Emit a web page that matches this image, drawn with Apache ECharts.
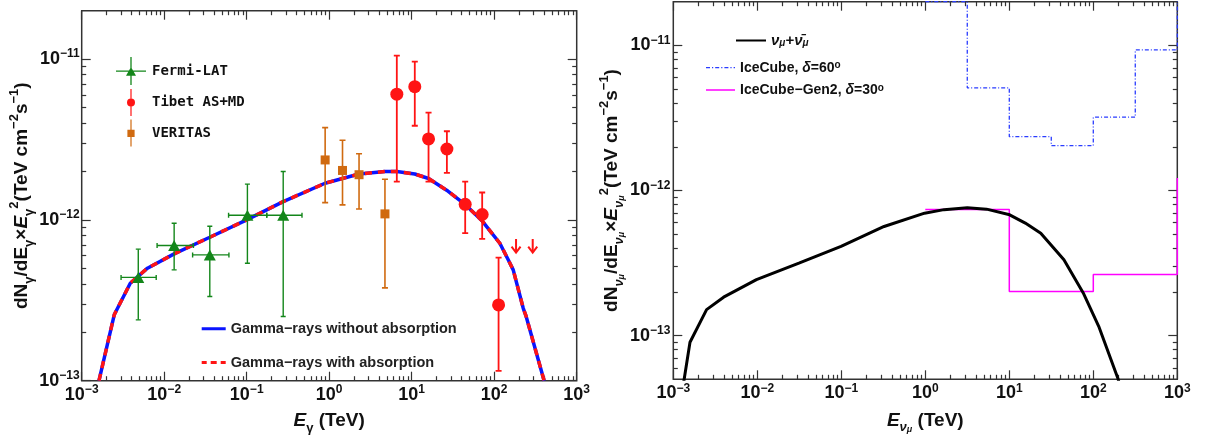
<!DOCTYPE html>
<html><head><meta charset="utf-8">
<script src="https://cdn.jsdelivr.net/npm/echarts@6/dist/echarts.min.js"></script>
<style>html,body{margin:0;padding:0;background:#fff}#c{width:1206px;height:441px}</style>
</head><body><div id="c"></div>
<script>
// ================= DATA (energy in TeV, flux in TeV cm^-2 s^-1) =================
// Left panel: gamma rays
const fermiE    = [4.85e-3, 1.32e-2, 3.57e-2, 0.102, 0.277];
const fermiF    = [4.39e-13, 6.93e-13, 6.06e-13, 1.07e-12, 1.07e-12];
const fermiFLo  = [2.39e-13, 4.89e-13, 3.34e-13, 5.38e-13, 2.51e-13];
const fermiFHi  = [6.58e-13, 9.53e-13, 9.14e-13, 1.67e-12, 2.0e-12];
const fermiELo  = [3.0e-3, 8.2e-3, 2.21e-2, 6.03e-2, 0.175];
const fermiEHi  = [8.0e-3, 2.26e-2, 6.09e-2, 0.175, 0.468];

const tibetE    = [6.6, 10.9, 16.0, 26.7, 44.5, 71.5, 113];
const tibetF    = [6.05e-12, 6.74e-12, 3.19e-12, 2.76e-12, 1.25e-12, 1.08e-12, 2.96e-13];
const tibetFLo  = [1.73e-12, 3.85e-12, 1.73e-12, 1.96e-12, 8.27e-13, 7.62e-13, 1.15e-13];
const tibetFHi  = [1.05e-11, 9.64e-12, 4.65e-12, 3.56e-12, 1.73e-12, 1.48e-12, 5.82e-13];
const tibetULE  = [184, 293];
const tibetULF  = [7.6e-13, 7.6e-13];

const veritasE   = [0.893, 1.45, 2.30, 4.74];
const veritasF   = [2.36e-12, 2.03e-12, 1.91e-12, 1.09e-12];
const veritasFLo = [1.28e-12, 1.24e-12, 1.17e-12, 3.78e-13];
const veritasFHi = [3.75e-12, 3.13e-12, 2.58e-12, 1.79e-12];

const gammaE       = [1.62e-3, 2.48e-3, 3.88e-3, 6.27e-3, 1.32e-2, 3.57e-2, 0.1, 0.277, 0.89, 2.3, 4.74, 6.6, 10.9, 16.0, 26.5, 44.2, 72.2, 81, 117, 151, 170, 225, 244, 403];
const gammaNoAbsF  = [1.0e-13, 2.57e-13, 4.04e-13, 5.01e-13, 6.15e-13, 7.8e-13, 1.0e-12, 1.3e-12, 1.69e-12, 1.93e-12, 2.0e-12, 2.0e-12, 1.93e-12, 1.81e-12, 1.53e-12, 1.25e-12, 9.8e-13, 9.08e-13, 7.16e-13, 5.53e-13, 4.89e-13, 2.82e-13, 2.51e-13, 1.0e-13];
const gammaAbsF    = [1.0e-13, 2.57e-13, 4.04e-13, 5.01e-13, 6.15e-13, 7.8e-13, 1.0e-12, 1.3e-12, 1.69e-12, 1.93e-12, 2.0e-12, 2.0e-12, 1.93e-12, 1.81e-12, 1.53e-12, 1.25e-12, 9.8e-13, 9.08e-13, 7.16e-13, 5.53e-13, 4.89e-13, 2.82e-13, 2.51e-13, 1.0e-13];

// Right panel: neutrinos
const nuE = [1.3e-3, 1.35e-3, 1.58e-3, 2.49e-3, 3.97e-3, 9.77e-3, 3.13e-2, 0.0993, 0.323, 0.98, 1.67, 3.16, 5.36, 10.1, 15.5, 23.7, 44.7, 75.9, 116, 197, 210];
const nuF = [4.4e-14, 5.04e-14, 9.0e-14, 1.51e-13, 1.84e-13, 2.43e-13, 3.16e-13, 4.12e-13, 5.65e-13, 6.98e-13, 7.38e-13, 7.6e-13, 7.44e-13, 6.8e-13, 5.96e-13, 5.08e-13, 3.33e-13, 1.97e-13, 1.16e-13, 5.04e-14, 4.4e-14];

const icecubeEdges = [1, 3.16, 10, 31.6, 100, 316, 1000];
const icecubeFlux  = [2.0e-11, 5.1e-12, 2.35e-12, 2.04e-12, 3.2e-12, 9.3e-12];
const icecubeNext  = 3.0e-11;   // next bin (beyond plotted range)
const gen2Edges = [1, 10, 100, 1000];
const gen2Flux  = [7.4e-13, 2.01e-13, 2.64e-13];
const gen2Next  = 1.22e-12;

// axis ranges (decades)
const xRange = [1e-3, 1e3];
const yRangeL = [1e-13, 2e-11];
const yRangeR = [5e-14, 2e-11];

// ================= BUILD =================
const L = Math.log10;
const FONT = 'Liberation Sans';
const pts = (xs, ys) => xs.map((x, i) => [L(x), L(ys[i])]);
function steps(edges, vals, next) {
  const out = [];
  vals.forEach((v, i) => { out.push([L(edges[i]), L(v)]); out.push([L(edges[i + 1]), L(v)]); });
  if (next != null) out.push([L(edges[edges.length - 1]), L(next)]);
  return out;
}
function majors(lo, hi) { const o = []; for (let n = Math.ceil(lo - 1e-9); n <= hi + 1e-9; n++) o.push(n); return o; }
function minors(lo, hi) {
  const o = [];
  for (let n = Math.floor(lo) - 1; n <= Math.ceil(hi); n++)
    for (let k = 2; k <= 9; k++) { const v = n + L(k); if (v > lo + 1e-6 && v < hi - 1e-6) o.push(v); }
  return o;
}
const lab = v => { const n = Math.round(v); return '{b|10}{s|' + (n < 0 ? '\u2212' : '') + Math.abs(n) + '}'; };
const labRich = {
  b: { fontFamily: FONT, fontSize: 18, fontWeight: 'bold', color: '#111', lineHeight: 22 },
  s: { fontFamily: FONT, fontSize: 12, fontWeight: 'bold', color: '#111', lineHeight: 11, verticalAlign: 'top' }
};
const nameRich = {
  t: { fontFamily: FONT, fontSize: 19, fontWeight: 'bold', color: '#111', lineHeight: 28 },
  i: { fontFamily: FONT, fontSize: 19, fontWeight: 'bold', fontStyle: 'italic', color: '#111', lineHeight: 28 },
  s: { fontFamily: FONT, fontSize: 13, fontWeight: 'bold', color: '#111', lineHeight: 12, verticalAlign: 'bottom' },
  si: { fontFamily: FONT, fontSize: 13, fontWeight: 'bold', fontStyle: 'italic', color: '#111', lineHeight: 12, verticalAlign: 'bottom' },
  ss: { fontFamily: FONT, fontSize: 9, fontWeight: 'bold', fontStyle: 'italic', color: '#111', lineHeight: 6, verticalAlign: 'bottom' },
  p: { fontFamily: FONT, fontSize: 13, fontWeight: 'bold', color: '#111', lineHeight: 14, verticalAlign: 'top' }
};
const TICK = { color: '#333', width: 1.2 };

function makeAxes(dim, gi, lo, hi, opts) {
  const pos = dim === 'x' ? ['bottom', 'top'] : ['left', 'right'];
  const base = { type: 'value', gridIndex: gi, min: lo, max: hi, axisLine: { show: false, onZero: false }, splitLine: { show: false } };
  const maj = majors(lo, hi), mnr = minors(lo, hi);
  return [
    Object.assign({}, base, {
      position: pos[0],
      axisTick: { show: true, inside: true, length: 9, customValues: maj, lineStyle: TICK },
      axisLabel: { show: true, customValues: maj, formatter: lab, rich: labRich, margin: opts.margin, hideOverlap: false },
      name: opts.name, nameLocation: 'middle', nameGap: opts.nameGap, nameRotate: dim === 'y' ? 90 : 0,
      nameTextStyle: { rich: nameRich }
    }),
    Object.assign({}, base, { position: pos[0], axisTick: { show: true, inside: true, length: 4.5, customValues: mnr, lineStyle: TICK }, axisLabel: { show: false } }),
    Object.assign({}, base, { position: pos[1], axisTick: { show: true, inside: true, length: 9, customValues: maj, lineStyle: TICK }, axisLabel: { show: false } }),
    Object.assign({}, base, { position: pos[1], axisTick: { show: true, inside: true, length: 4.5, customValues: mnr, lineStyle: TICK }, axisLabel: { show: false } })
  ];
}

const xL = [L(xRange[0]), L(xRange[1])];
const xAxes = makeAxes('x', 0, xL[0], xL[1], { margin: 3, nameGap: 26, name: '{i|E}{s|\u03b3}{t| (TeV)}' })
  .concat(makeAxes('x', 1, xL[0], xL[1], { margin: 3, nameGap: 27, name: '{i|E}{si|\u03bd}{ss|\u03bc}{t| (TeV)}' }));
const yAxes = makeAxes('y', 0, L(yRangeL[0]), L(yRangeL[1]), { margin: 2, nameGap: 39,
    name: '{t|dN}{s|\u03b3}{t|/dE}{s|\u03b3}{t|\u00d7}{i|E}{s|\u03b3}{p|2}{t|(TeV cm}{p|\u22122}{t|s}{p|\u22121}{t|)}' })
  .concat(makeAxes('y', 1, L(yRangeR[0]), L(yRangeR[1]), { margin: 3, nameGap: 40,
    name: '{t|dN}{si|\u03bd}{ss|\u03bc}{t|/dE}{si|\u03bd}{ss|\u03bc}{t|\u00d7}{i|E}{si|\u03bd}{ss|\u03bc}{p|2}{t|(TeV cm}{p|\u22122}{t|s}{p|\u22121}{t|)}' }));

function errSeries(name, color, lw, cap, data, hasX) {
  return {
    type: 'custom', name: name, xAxisIndex: 0, yAxisIndex: 0, z: 3, silent: true, clip: true,
    data: data, encode: { x: 0, y: 1 },
    renderItem: function (params, api) {
      const x = api.value(0), y = api.value(1);
      const a = api.coord([x, api.value(2)]), b = api.coord([x, api.value(3)]);
      const st = { stroke: color, lineWidth: lw, fill: null };
      const ch = [
        { type: 'line', shape: { x1: a[0], y1: a[1], x2: b[0], y2: b[1] }, style: st },
        { type: 'line', shape: { x1: a[0] - cap, y1: a[1], x2: a[0] + cap, y2: a[1] }, style: st },
        { type: 'line', shape: { x1: b[0] - cap, y1: b[1], x2: b[0] + cap, y2: b[1] }, style: st }
      ];
      if (hasX) {
        const c = api.coord([api.value(4), y]), d = api.coord([api.value(5), y]);
        ch.push({ type: 'line', shape: { x1: c[0], y1: c[1], x2: d[0], y2: d[1] }, style: st });
        ch.push({ type: 'line', shape: { x1: c[0], y1: c[1] - cap, x2: c[0], y2: c[1] + cap }, style: st });
        ch.push({ type: 'line', shape: { x1: d[0], y1: d[1] - cap, x2: d[0], y2: d[1] + cap }, style: st });
      }
      return { type: 'group', children: ch };
    }
  };
}

const GREEN = '#13861a', RED = '#ff1414', ORANGE = '#d06a10';
const fermiErr = fermiE.map((e, i) => [L(e), L(fermiF[i]), L(fermiFLo[i]), L(fermiFHi[i]), L(fermiELo[i]), L(fermiEHi[i])]);
const tibetErr = tibetE.map((e, i) => [L(e), L(tibetF[i]), L(tibetFLo[i]), L(tibetFHi[i])]);
const verErr = veritasE.map((e, i) => [L(e), L(veritasF[i]), L(veritasFLo[i]), L(veritasFHi[i])]);

// legend icons (paths sized 1:1 via invisible corner markers)
const box = (w, h) => 'M0,0h0.01v0.01h-0.01z M' + (w - 0.01) + ',' + (h - 0.01) + 'h0.01v0.01h-0.01z ';
const bound = box(30, 28);
const iconFermi = 'path://' + bound + 'M0,13.4h30v1.3h-30z M14.35,0h1.3v28h-1.3z M15,10L20,18.8H10z';
const iconTibet = 'path://' + bound + 'M14.4,1h1.2v27h-1.2z M19,14.5A4,4 0 1,1 11,14.5A4,4 0 1,1 19,14.5z';
const iconVer = 'path://' + bound + 'M14.4,0.5h1.2v27h-1.2z M11.4,10.8h7.2v7.2h-7.2z';
function dashIcon(w, h, th, pattern) {
  let s = 'path://' + box(w, h), x = 0, i = 0;
  const y = (h - th) / 2;
  while (x < w) {
    const len = Math.min(pattern[i % pattern.length], w - x);
    if (i % 2 === 0 && len > 0) s += 'M' + x + ',' + y + 'h' + len + 'v' + th + 'h' + (-len) + 'z ';
    x += pattern[i % pattern.length]; i++;
  }
  return s;
}
const iconBlue = dashIcon(24, 14, 3, [24]);
const iconRedDash = dashIcon(24, 14, 3, [5, 4, 6, 4, 5]);
const iconBlack = dashIcon(30, 14, 2, [30]);
const iconIce = dashIcon(29, 14, 1.3, [4, 2, 1.2, 2]);
const iconGen2 = dashIcon(29, 14, 1.5, [29]);

const option = {
  animation: false,
  backgroundColor: '#fff',
  grid: [
    { left: 81.7, top: 10.7, width: 495, height: 370, show: true, borderColor: '#333', borderWidth: 1.5, backgroundColor: 'transparent' },
    { left: 673.3, top: 1.7, width: 504, height: 377.6, show: true, borderColor: '#333', borderWidth: 1.5, backgroundColor: 'transparent' }
  ],
  xAxis: xAxes,
  yAxis: yAxes,
  legend: [
    { orient: 'vertical', left: 116, top: 57, padding: 0, itemWidth: 30, itemHeight: 28, itemGap: 3, selectedMode: false,
      textStyle: { fontFamily: 'DejaVu Sans Mono', fontWeight: 'bold', fontSize: 14, color: '#111', padding: [0, 0, 0, 1] },
      data: [{ name: 'Fermi-LAT', icon: iconFermi }, { name: 'Tibet AS+MD', icon: iconTibet }, { name: 'VERITAS', icon: iconVer }] },
    { orient: 'vertical', left: 201.7, top: 321.3, padding: 0, itemWidth: 24, itemHeight: 14, itemGap: 18.7, selectedMode: false,
      textStyle: { fontFamily: FONT, fontWeight: 'bold', fontSize: 14.5, color: '#222', lineHeight: 14 },
      data: [{ name: 'Gamma\u2212rays without absorption', icon: iconBlue }, { name: 'Gamma\u2212rays with absorption', icon: iconRedDash }] },
    { orient: 'vertical', left: 736, top: 33, padding: 0, itemWidth: 30, itemHeight: 14, selectedMode: false,
      formatter: () => '{v|\u03bd}{m|\u03bc}{v|+\u03bd\u0304}{m|\u03bc}',
      textStyle: { rich: {
        v: { fontFamily: FONT, fontWeight: 'bold', fontStyle: 'italic', fontSize: 15, color: '#111', lineHeight: 16 },
        m: { fontFamily: FONT, fontWeight: 'bold', fontStyle: 'italic', fontSize: 10, color: '#111', lineHeight: 9, verticalAlign: 'bottom' } } },
      data: [{ name: 'numu', icon: iconBlack }] },
    { orient: 'vertical', left: 706, top: 60.7, padding: 0, itemWidth: 29, itemHeight: 14, itemGap: 8.3, selectedMode: false,
      formatter: n => n === 'IceCube' ? '{t|IceCube, }{d|\u03b4}{t|=60}{o|o}' : '{t|IceCube\u2212Gen2, }{d|\u03b4}{t|=30}{o|o}',
      textStyle: { rich: {
        t: { fontFamily: FONT, fontWeight: 'bold', fontSize: 14, color: '#111', lineHeight: 14 },
        d: { fontFamily: FONT, fontWeight: 'bold', fontStyle: 'italic', fontSize: 14, color: '#111', lineHeight: 14 },
        o: { fontFamily: FONT, fontWeight: 'bold', fontSize: 10, color: '#111', lineHeight: 8, verticalAlign: 'top' } } },
      data: [{ name: 'IceCube', icon: iconIce }, { name: 'IceCube-Gen2', icon: iconGen2 }] }
  ],
  series: [
    { type: 'line', name: 'Gamma\u2212rays without absorption', xAxisIndex: 0, yAxisIndex: 0, z: 2, data: pts(gammaE, gammaNoAbsF),
      symbol: 'none', clip: true, lineStyle: { color: '#0a14ff', width: 3.5 }, itemStyle: { color: '#0a14ff' } },
    { type: 'line', name: 'Gamma\u2212rays with absorption', xAxisIndex: 0, yAxisIndex: 0, z: 2, data: pts(gammaE, gammaAbsF),
      symbol: 'none', clip: true, lineStyle: { color: '#ff1414', width: 3.5, type: [7, 6] }, itemStyle: { color: '#ff1414' } },
    errSeries('fermiErr', GREEN, 1.4, 2.5, fermiErr, true),
    errSeries('tibetErr', RED, 1.8, 3, tibetErr, false),
    errSeries('verErr', ORANGE, 1.6, 3, verErr, false),
    { type: 'custom', name: 'tibetUL', xAxisIndex: 0, yAxisIndex: 0, z: 3, silent: true, clip: true,
      data: pts(tibetULE, tibetULF), encode: { x: 0, y: 1 },
      renderItem: function (params, api) {
        const p = api.coord([api.value(0), api.value(1)]);
        const st = { stroke: RED, lineWidth: 2, fill: null };
        return { type: 'group', children: [
          { type: 'line', shape: { x1: p[0], y1: p[1], x2: p[0], y2: p[1] + 13 }, style: st },
          { type: 'polyline', shape: { points: [[p[0] - 4.5, p[1] + 7.5], [p[0], p[1] + 13.5], [p[0] + 4.5, p[1] + 7.5]] }, style: st }
        ] };
      } },
    { type: 'scatter', name: 'Fermi-LAT', xAxisIndex: 0, yAxisIndex: 0, z: 4, data: pts(fermiE, fermiF),
      symbol: 'triangle', symbolSize: [12, 11], itemStyle: { color: GREEN, opacity: 1 } },
    { type: 'scatter', name: 'Tibet AS+MD', xAxisIndex: 0, yAxisIndex: 0, z: 4, data: pts(tibetE, tibetF),
      symbol: 'circle', symbolSize: 13, itemStyle: { color: RED, opacity: 1 } },
    { type: 'scatter', name: 'VERITAS', xAxisIndex: 0, yAxisIndex: 0, z: 4, data: pts(veritasE, veritasF),
      symbol: 'rect', symbolSize: 9, itemStyle: { color: ORANGE, opacity: 1 } },

    { type: 'line', name: 'numu', xAxisIndex: 4, yAxisIndex: 4, z: 3, data: pts(nuE, nuF), symbol: 'none', clip: true,
      lineStyle: { color: '#000', width: 3 }, itemStyle: { color: '#000' } },
    { type: 'line', name: 'IceCube', xAxisIndex: 4, yAxisIndex: 4, z: 2, data: steps(icecubeEdges, icecubeFlux, icecubeNext),
      symbol: 'none', clip: true, lineStyle: { color: '#2a3cff', width: 1.3, type: [4, 2, 1, 2] }, itemStyle: { color: '#2a3cff' } },
    { type: 'line', name: 'IceCube-Gen2', xAxisIndex: 4, yAxisIndex: 4, z: 2, data: steps(gen2Edges, gen2Flux, gen2Next),
      symbol: 'none', clip: true, lineStyle: { color: '#ff00ff', width: 1.5 }, itemStyle: { color: '#ff00ff' } }
  ]
};
const chart = echarts.init(document.getElementById('c'), null, { renderer: 'canvas' });
chart.setOption(option);
</script></body></html>
